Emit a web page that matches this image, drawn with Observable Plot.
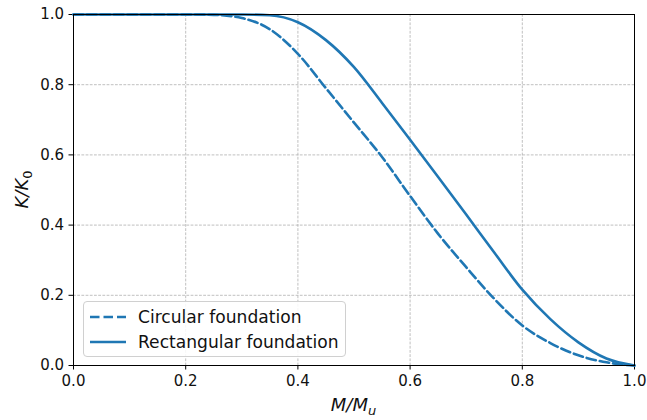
<!DOCTYPE html>
<html>
<head>
<meta charset="utf-8">
<script src="https://cdn.jsdelivr.net/npm/d3@7"></script>
<script src="https://cdn.jsdelivr.net/npm/@observablehq/plot@0.6"></script>
<style>
  html, body { margin: 0; padding: 0; background: #fff; }
  #wrap { position: relative; width: 647px; height: 420px; font-family: "DejaVu Sans", sans-serif; }
  #legend { position: absolute; left: 83px; top: 301px; width: 261px; height: 54px;
    border: 1px solid #d0d0d0; border-radius: 4px; background: rgba(255,255,255,0.85);
    font-size: 17.1px; color: #111; }
  .row { position: absolute; left: 6px; height: 22px; display: flex; align-items: center; }
  .row svg { margin-right: 12px; }
</style>
</head>
<body>
<div id="wrap"></div>
<script>
const mu = [0, 0.05, 0.1, 0.15, 0.2, 0.25, 0.3, 0.35, 0.4, 0.45, 0.5, 0.55, 0.6, 0.65, 0.7, 0.75, 0.8, 0.85, 0.9, 0.95, 1.0];
const circular =    [1, 1, 1, 1, 1, 0.999, 0.99, 0.958, 0.888, 0.79, 0.692, 0.594, 0.483, 0.375, 0.28, 0.19, 0.114, 0.064, 0.029, 0.009, 0];
const rectangular = [1, 1, 1, 1, 1, 1, 1, 0.998, 0.978, 0.927, 0.85, 0.748, 0.643, 0.537, 0.43, 0.322, 0.216, 0.132, 0.066, 0.02, 0];
const seriesNames = ["Circular foundation", "Rectangular foundation"];
const ticks = [0, 0.2, 0.4, 0.6, 0.8, 1.0];

const color = "#1f77b4";
const circData = mu.map((m, i) => ({m, k: circular[i]}));
const rectData = mu.map((m, i) => ({m, k: rectangular[i]}));

const W = 647, H = 420, ML = 73, MR = 13, MT = 14, MB = 55;
const fmt = d3.format(".1f");

const chart = Plot.plot({
  width: W, height: H,
  marginLeft: ML, marginRight: MR, marginTop: MT, marginBottom: MB,
  style: { fontFamily: "DejaVu Sans, sans-serif", fontSize: "15px", color: "#000", background: "#fff" },
  x: { domain: [0, 1], ticks: ticks, tickFormat: fmt, label: null },
  y: { domain: [0, 1], ticks: ticks, tickFormat: fmt, label: null },
  marks: [
    Plot.gridX(ticks, { stroke: "#b0b0b0", strokeOpacity: 1, strokeWidth: 0.8, strokeDasharray: "2.8,1.4" }),
    Plot.gridY(ticks, { stroke: "#b0b0b0", strokeOpacity: 1, strokeWidth: 0.8, strokeDasharray: "2.8,1.4" }),
    Plot.axisX(ticks, { tickSize: 4.5, tickPadding: 5, tickFormat: fmt, label: null, stroke: "#000", fontSize: 15, fill: "#111" }),
    Plot.axisY(ticks, { tickSize: 4.5, tickPadding: 5, tickFormat: fmt, label: null, stroke: "#000", fontSize: 15, fill: "#111" }),
    Plot.line(circData, { x: "m", y: "k", stroke: color, strokeWidth: 2.6, strokeDasharray: "9.5,4", curve: "monotone-x" }),
    Plot.line(rectData, { x: "m", y: "k", stroke: color, strokeWidth: 2.6, curve: "monotone-x" }),
    Plot.frame({ stroke: "#000", strokeWidth: 1 })
  ]
});

const wrap = document.getElementById("wrap");
wrap.appendChild(chart);

// axis labels with subscripts
const svg = d3.select(chart);
const cx = ML + (W - ML - MR) / 2;
const cy = MT + (H - MT - MB) / 2;
const xl = svg.append("text").attr("x", cx).attr("y", H - 9)
  .attr("text-anchor", "middle").attr("font-size", 18).attr("font-style", "italic").attr("fill", "#111");
xl.append("tspan").text("M/M");
xl.append("tspan").attr("font-size", 13).attr("dy", 4).text("u");
const yl = svg.append("text").attr("transform", `translate(28,${cy}) rotate(-90)`)
  .attr("text-anchor", "middle").attr("font-size", 18).attr("font-style", "italic").attr("fill", "#111");
yl.append("tspan").text("K/K");
yl.append("tspan").attr("font-size", 13).attr("font-style", "normal").attr("dy", 4).text("0");

// legend
const legend = document.createElement("div");
legend.id = "legend";
const dashes = ["9.5,4", null];
seriesNames.forEach((name, i) => {
  const row = document.createElement("div");
  row.className = "row";
  row.style.top = (4 + i * 25) + "px";
  const s = d3.create("svg").attr("width", 36).attr("height", 12);
  const ln = s.append("line").attr("x1", 0).attr("x2", 36).attr("y1", 6).attr("y2", 6)
    .attr("stroke", color).attr("stroke-width", 2.6);
  if (dashes[i]) ln.attr("stroke-dasharray", dashes[i]);
  row.appendChild(s.node());
  const t = document.createElement("span");
  t.textContent = name;
  row.appendChild(t);
  legend.appendChild(row);
});
wrap.appendChild(legend);
</script>
</body>
</html>
